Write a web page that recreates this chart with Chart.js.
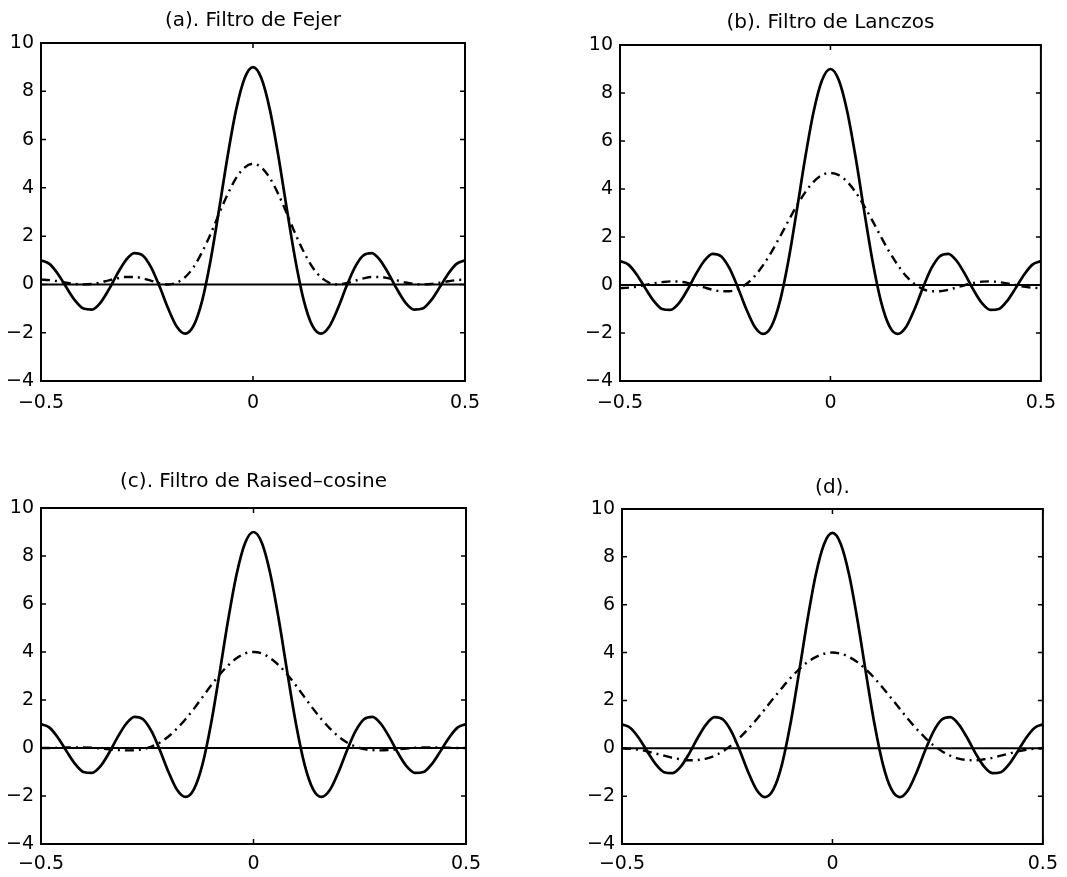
<!DOCTYPE html>
<html>
<head>
<meta charset="utf-8">
<script src="https://cdn.jsdelivr.net/npm/chart.js@4"></script>
<style>
  body { margin: 0; background: #fff; }
  #wrap { position: relative; width: 1067px; height: 877px; background: #fff; }
  canvas { position: absolute; }
</style>
</head>
<body>
<div id="wrap">
  <canvas id="pa"></canvas>
  <canvas id="pb"></canvas>
  <canvas id="pc"></canvas>
  <canvas id="pd"></canvas>
</div>
<script>
// frequency axis, -0.5 .. 0.5
const xs = [-0.50, -0.48, -0.46, -0.44, -0.42, -0.40, -0.38, -0.36, -0.34, -0.32,
            -0.30, -0.28, -0.26, -0.24, -0.22, -0.20, -0.18, -0.16, -0.14, -0.12,
            -0.10, -0.08, -0.06, -0.04, -0.02, 0.00, 0.02, 0.04, 0.06, 0.08,
            0.10, 0.12, 0.14, 0.16, 0.18, 0.20, 0.22, 0.24, 0.26, 0.28,
            0.30, 0.32, 0.34, 0.36, 0.38, 0.40, 0.42, 0.44, 0.46, 0.48, 0.50];

// solid curve (same in all four panels)
const dirichlet = [1.00, 0.85, 0.43, -0.13, -0.66, -1.00, -1.04, -0.76, -0.21, 0.44,
                   1.00, 1.30, 1.20, 0.70, -0.10, -1.00, -1.74, -2.04, -1.71, -0.68,
                   1.00, 3.10, 5.30, 7.22, 8.53, 9.00, 8.53, 7.22, 5.30, 3.10,
                   1.00, -0.68, -1.71, -2.04, -1.74, -1.00, -0.10, 0.70, 1.20, 1.30,
                   1.00, 0.44, -0.21, -0.76, -1.04, -1.00, -0.66, -0.13, 0.43, 0.85, 1.00];

// dash-dot curves
const fejer = [0.20, 0.18, 0.13, 0.07, 0.02, 0.00, 0.02, 0.08, 0.17, 0.25,
               0.31, 0.31, 0.25, 0.15, 0.05, 0.00, 0.07, 0.30, 0.72, 1.34,
               2.09, 2.93, 3.73, 4.40, 4.84, 5.00, 4.84, 4.40, 3.73, 2.93,
               2.09, 1.34, 0.72, 0.30, 0.07, 0.00, 0.05, 0.15, 0.25, 0.31,
               0.31, 0.25, 0.17, 0.08, 0.02, 0.00, 0.02, 0.07, 0.13, 0.18, 0.20];

const lanczos = [-0.13, -0.11, -0.07, 0.00, 0.07, 0.12, 0.15, 0.14, 0.09, 0.00,
                 -0.10, -0.20, -0.26, -0.26, -0.17, 0.04, 0.37, 0.83, 1.38, 2.01,
                 2.67, 3.30, 3.86, 4.30, 4.58, 4.67, 4.58, 4.30, 3.86, 3.30,
                 2.67, 2.01, 1.38, 0.83, 0.37, 0.04, -0.17, -0.26, -0.26, -0.20,
                 -0.10, 0.00, 0.09, 0.14, 0.15, 0.12, 0.07, 0.00, -0.07, -0.11, -0.13];

const raisedCos = [0.00, 0.00, 0.01, 0.02, 0.02, 0.02, 0.01, -0.02, -0.05, -0.08,
                   -0.10, -0.09, -0.05, 0.06, 0.23, 0.48, 0.81, 1.20, 1.64, 2.12,
                   2.60, 3.05, 3.44, 3.74, 3.94, 4.00, 3.94, 3.74, 3.44, 3.05,
                   2.60, 2.12, 1.64, 1.20, 0.81, 0.48, 0.23, 0.06, -0.05, -0.09,
                   -0.10, -0.08, -0.05, -0.02, 0.01, 0.02, 0.02, 0.02, 0.01, 0.00, 0.00];

const panelD = [0.00, -0.02, -0.06, -0.13, -0.22, -0.31, -0.40, -0.46, -0.50, -0.49,
                -0.43, -0.31, -0.12, 0.13, 0.45, 0.81, 1.21, 1.65, 2.09, 2.52,
                2.93, 3.29, 3.59, 3.81, 3.95, 4.00, 3.95, 3.81, 3.59, 3.29,
                2.93, 2.52, 2.09, 1.65, 1.21, 0.81, 0.45, 0.13, -0.12, -0.31,
                -0.43, -0.49, -0.50, -0.46, -0.40, -0.31, -0.22, -0.13, -0.06, -0.02, 0.00];

// zero reference line
const zeroX = [-0.5, 0.5];
const zeroY = [0, 0];

const xTicks = [-0.5, 0, 0.5];
const yTicks = [-4, -2, 0, 2, 4, 6, 8, 10];

const titles = ['(a). Filtro de Fejer', '(b). Filtro de Lanczos',
                '(c). Filtro de Raised\u2013cosine', '(d).'];

Chart.defaults.font.family = 'DejaVu Sans';
Chart.defaults.color = '#000';

// canvas: [left, top, w, h], box: plot area [left, top, right, bottom] in page px
const panels = [
  { id: 'pa', canvas: [0, 0, 533, 435],   box: [41, 43, 465, 381],   titleY: 21,  xPad: 11, dash: fejer,     title: titles[0] },
  { id: 'pb', canvas: [533, 0, 534, 435], box: [620, 45, 1043, 381], titleY: 23,  xPad: 11, dash: lanczos,   title: titles[1] },
  { id: 'pc', canvas: [0, 435, 533, 442], box: [41, 508, 466, 844],  titleY: 482, xPad: 9,  dash: raisedCos, title: titles[2] },
  { id: 'pd', canvas: [533, 435, 534, 442], box: [622, 509, 1043, 844], titleY: 488, xPad: 9, dash: panelD, title: titles[3] }
];

const pts = (xv, yv) => xv.map((x, i) => ({ x: x, y: yv[i] }));
const fmt = v => v < 0 ? '\u2212' + Math.abs(v) : String(v);

// box around plot + inward tick marks (matlab look)
const framePlugin = {
  id: 'frame',
  afterDatasetsDraw(chart) {
    const { ctx, chartArea: a, scales } = chart;
    ctx.save();
    ctx.strokeStyle = '#000';
    ctx.lineWidth = 2;
    ctx.strokeRect(a.left, a.top, a.right - a.left, a.bottom - a.top);
    ctx.lineWidth = 1.5;
    ctx.beginPath();
    for (const t of scales.y.ticks) {
      const py = scales.y.getPixelForValue(t.value);
      ctx.moveTo(a.left, py); ctx.lineTo(a.left + 5, py);
      ctx.moveTo(a.right, py); ctx.lineTo(a.right - 5, py);
    }
    for (const t of scales.x.ticks) {
      const px = scales.x.getPixelForValue(t.value);
      ctx.moveTo(px, a.bottom); ctx.lineTo(px, a.bottom - 5);
      ctx.moveTo(px, a.top); ctx.lineTo(px, a.top + 5);
    }
    ctx.stroke();
    ctx.restore();
  }
};

for (const p of panels) {
  const [cl, ct, cw, ch] = p.canvas;
  const [bl, bt, br, bb] = p.box;
  const cv = document.getElementById(p.id);
  cv.width = cw; cv.height = ch;
  cv.style.left = cl + 'px'; cv.style.top = ct + 'px';

  new Chart(cv, {
    type: 'line',
    data: {
      datasets: [
        { data: pts(zeroX, zeroY), borderColor: '#000', borderWidth: 2, pointRadius: 0 },
        { data: pts(xs, dirichlet), borderColor: '#000', borderWidth: 2.7, pointRadius: 0,
          cubicInterpolationMode: 'monotone' },
        { data: pts(xs, p.dash), borderColor: '#000', borderWidth: 2.4, pointRadius: 0,
          borderDash: [9, 5, 2, 5], cubicInterpolationMode: 'monotone' }
      ]
    },
    options: {
      responsive: false,
      animation: false,
      devicePixelRatio: 1,
      layout: { padding: { left: 0, top: 0, right: cl + cw - br, bottom: 0 } },
      plugins: {
        legend: { display: false },
        tooltip: { enabled: false },
        title: {
          display: true,
          text: p.title,
          fullSize: false,
          color: '#000',
          font: { size: 20, weight: 'normal', lineHeight: 1.2 },
          padding: { top: p.titleY - 12 - ct, bottom: bt - p.titleY - 12 }
        }
      },
      scales: {
        x: {
          type: 'linear',
          min: -0.5, max: 0.5,
          grid: { display: false, drawTicks: false },
          border: { display: false },
          afterBuildTicks: s => { s.ticks = xTicks.map(v => ({ value: v })); },
          afterFit: s => { s.height = ct + ch - bb; },
          ticks: { padding: p.xPad, maxRotation: 0, font: { size: 19 }, callback: fmt }
        },
        y: {
          min: -4, max: 10,
          grid: { display: false, drawTicks: false },
          border: { display: false },
          afterBuildTicks: s => { s.ticks = yTicks.map(v => ({ value: v })); },
          afterFit: s => { s.width = bl - cl; },
          ticks: { padding: 7, font: { size: 19 }, callback: fmt }
        }
      }
    },
    plugins: [framePlugin]
  });
}
</script>
</body>
</html>
